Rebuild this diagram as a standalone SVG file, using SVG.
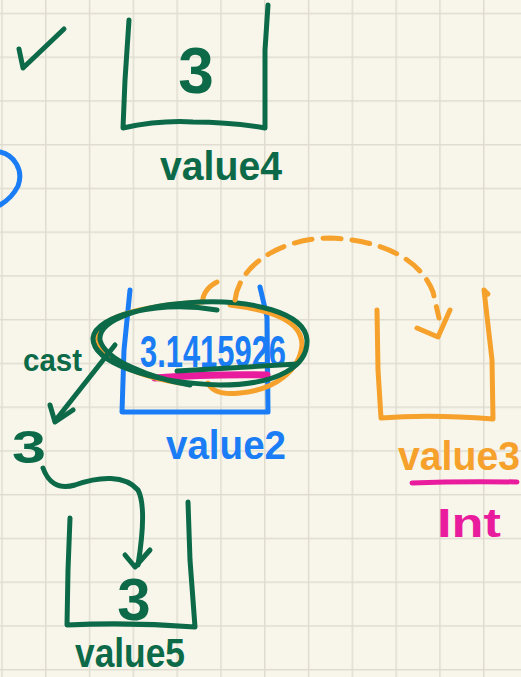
<svg xmlns="http://www.w3.org/2000/svg" width="521" height="677" viewBox="0 0 521 677">
<defs>
<pattern id="grid" patternUnits="userSpaceOnUse" x="1.2" y="12.7" width="43.8" height="43.75">
<path d="M0,0 H43.8 M0,0 V43.75" fill="none" stroke="#dfdccf" stroke-width="3"/>
</pattern>
<style>
.s{fill:none;stroke-width:5;stroke-linecap:round;stroke-linejoin:round}
.g{stroke:#0c6a49}.b{stroke:#1a7df5}.o{stroke:#f5a12c}.p{stroke:#e81c9c}
.t{font-family:"Liberation Sans",Arial,sans-serif;font-weight:bold}
.tg{fill:#0c6a49}.tb{fill:#1a7df5}.to{fill:#f5a12c}.tp{fill:#e81c9c}
</style>
</defs>
<rect width="521" height="677" fill="#f8f6eb"/>
<rect width="521" height="677" fill="url(#grid)"/>

<g id="check"><path class="s g" d="M19,49 L23,68 L64,29"/></g>
<g id="blue-arc"><path class="s b" d="M0,152 C14,155 24,170 18,186 Q12,198 0,205"/></g>

<g id="value4">
<path class="s g" d="M129,20 L125,80 L123,128 Q160,120 193,122 Q230,122 265,128 L265,50 L268,5"/>
<text class="t tg" x="196" y="93" font-size="64" text-anchor="middle">3</text>
<text class="t tg" x="160" y="180" font-size="40" textLength="122" lengthAdjust="spacingAndGlyphs">value4</text>
</g>

<g id="value2">
<path class="s b" d="M130,290 L124,350 L122,412 L268,412 L267,317 L260,287"/>
<path d="M155,378 Q210,374 267,375" fill="none" stroke="#e81c9c" stroke-width="7" stroke-linecap="round"/>
<text class="t tb" x="140" y="367" font-size="44" textLength="146" lengthAdjust="spacingAndGlyphs">3.1415926</text>
<text class="t tb" x="166" y="459" font-size="40" textLength="120" lengthAdjust="spacingAndGlyphs">value2</text>
</g>

<g id="highlight">
<path class="s o" d="M217,282 C205,288 202,298 203,302 C150,305 100,315 97,335 C96,360 140,378 187,384 M208,383 C212,392 222,395 240,393 C275,390 300,370 302,345 C302,320 270,310 230,305"/>
<path class="s g" d="M217,310 C160,300 95,315 93,338 C92,362 150,383 220,385 C280,385 308,365 307,340 C305,312 250,300 200,302 C140,305 98,320 100,340 C105,360 150,378 190,385"/>
<path class="s g" d="M177,371 L297,364"/>
</g>

<g id="value3">
<path class="s o" d="M377,310 L378,370 L381,418 Q430,414 493,419 L492,360 L484,290 L488,294"/>
<text class="t to" x="398" y="470" font-size="40" textLength="122" lengthAdjust="spacingAndGlyphs">value3</text>
<path class="s p" d="M412,483 Q460,481 517,482"/>
<text class="t tp" x="437" y="537" font-size="40" textLength="64" lengthAdjust="spacingAndGlyphs">Int</text>
</g>

<g id="cast-label"><text class="t tg" x="23" y="371" font-size="32" textLength="59" lengthAdjust="spacingAndGlyphs">cast</text></g>

<g id="three"><text class="t tg" x="12" y="463" font-size="46" textLength="34" lengthAdjust="spacingAndGlyphs">3</text></g>

<g id="value5">
<path class="s g" d="M70,518 L68,570 L67,625 Q130,622 195,627 L190,560 L188,502"/>
<text class="t tg" x="134" y="620" font-size="60" text-anchor="middle">3</text>
<text class="t tg" x="75" y="667" font-size="40" textLength="110" lengthAdjust="spacingAndGlyphs">value5</text>
</g>

<g id="connectors">
<path class="s o" stroke-dasharray="18 11" d="M235,300 C240,262 285,238 330,238 C380,240 420,258 433,292 L439,318"/>
<path class="s o" d="M417,328 L438,337 L450,310"/>
<path class="s g" d="M115,345 L55,421"/>
<path class="s g" d="M50,405 L55,422 L73,410"/>
<path class="s g" d="M43,468 C48,482 58,490 75,485 C100,476 125,475 138,490 C146,505 142,540 138,565"/>
<path class="s g" d="M125,555 L135,567 L150,550"/>
</g>
</svg>
